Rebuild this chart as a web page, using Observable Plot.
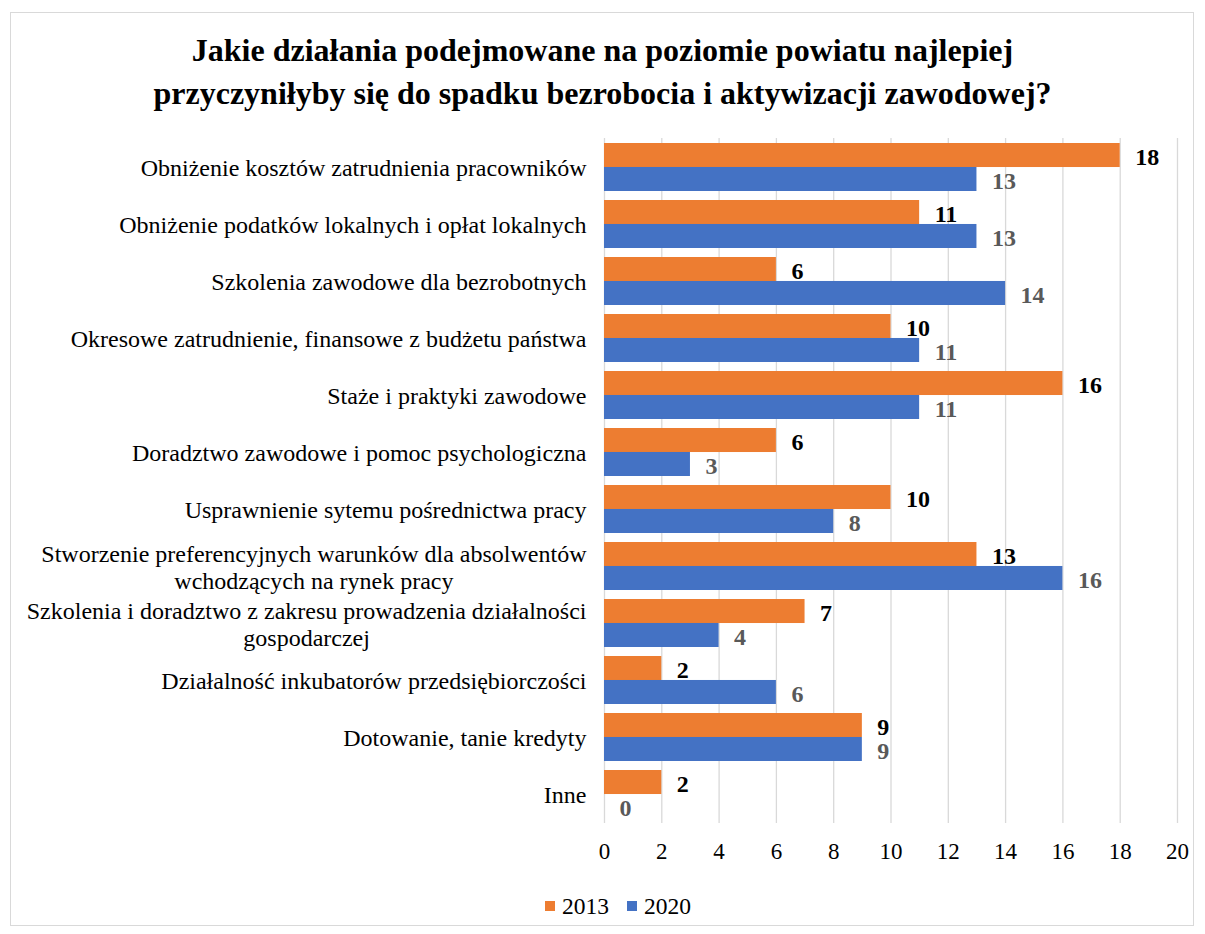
<!DOCTYPE html>
<html>
<head>
<meta charset="utf-8">
<script src="https://cdn.jsdelivr.net/npm/d3@7"></script>
<script src="https://cdn.jsdelivr.net/npm/@observablehq/plot@0.6"></script>
<style>
  html, body { margin: 0; padding: 0; background: #fff; }
  #wrap { position: relative; width: 1205px; height: 934px; font-family: "Liberation Serif", "Times New Roman", serif; }
  #frame { position: absolute; left: 10px; top: 12px; width: 1184px; height: 914px; border: 1px solid #d9d9d9; box-sizing: border-box; }
  #title { position: absolute; left: 0; top: 29px; width: 1205px; text-align: center; font-weight: bold; font-size: 32px; line-height: 43px; color: #000; }
  #chart { position: absolute; left: 0; top: 120px; }
  #legend { position: absolute; top: 888px; left: 545px; font-size: 23.5px; line-height: 30px; color: #000; white-space: nowrap; }
  #legend span.item { display: inline-flex; align-items: center; margin-right: 18px; }
  #legend span.sw { display: inline-block; width: 10px; height: 10px; margin-right: 7px; }
</style>
</head>
<body>
<div id="wrap">
  <div id="frame"></div>
  <div id="title">Jakie działania podejmowane na poziomie powiatu najlepiej<br>przyczyniłyby się do spadku bezrobocia i aktywizacji zawodowej?</div>
  <div id="chart"></div>
  <div id="legend"></div>
</div>
<script>
const categories = [
  "Obniżenie kosztów zatrudnienia pracowników",
  "Obniżenie podatków lokalnych i opłat lokalnych",
  "Szkolenia zawodowe dla bezrobotnych",
  "Okresowe zatrudnienie, finansowe z budżetu państwa",
  "Staże i praktyki zawodowe",
  "Doradztwo zawodowe i pomoc psychologiczna",
  "Usprawnienie sytemu pośrednictwa pracy",
  "Stworzenie preferencyjnych warunków dla absolwentów\nwchodzących na rynek pracy",
  "Szkolenia i doradztwo z zakresu prowadzenia działalności\ngospodarczej",
  "Działalność inkubatorów przedsiębiorczości",
  "Dotowanie, tanie kredyty",
  "Inne"
];
const values2013 = [18, 11, 6, 10, 16, 6, 10, 13, 7, 2, 9, 2];
const values2020 = [13, 13, 14, 11, 11, 3, 8, 16, 4, 6, 9, 0];
const years = ["2013", "2020"];
const colors = ["#ED7D31", "#4472C4"];
const xTicks = [0, 2, 4, 6, 8, 10, 12, 14, 16, 18, 20];

const data2013 = categories.map((c, i) => ({category: c, value: values2013[i]}));
const data2020 = categories.map((c, i) => ({category: c, value: values2020[i]}));

const W = 1205, H = 760, mT = 18, mB = 57, mL = 604, mR = 28;
const pIn = 0.16, pOut = 0.08;
const step = (H - mT - mB) / (categories.length - pIn + 2 * pOut);
const bw = step * (1 - pIn);

const labelFont = 24;
const ctx = document.createElement("canvas").getContext("2d");
ctx.font = `${labelFont}px "Liberation Serif"`;
const labelMarks = categories.map(c => {
  const w = d3.max(c.split("\n"), s => ctx.measureText(s).width);
  return Plot.text([c], {
    y: d => d, text: d => d, frameAnchor: "left",
    dx: -18 - w / 2, textAnchor: "middle", lineAnchor: "middle",
    lineHeight: 1.125, fontSize: labelFont, fill: "#000"
  });
});

const chart = Plot.plot({
  width: W, height: H,
  marginTop: mT, marginBottom: mB, marginLeft: mL, marginRight: mR,
  style: {fontFamily: "'Liberation Serif', 'Times New Roman', serif", fontSize: "23px", background: "transparent", color: "#000"},
  x: {domain: [0, 20], ticks: xTicks, tickSize: 0, tickPadding: 19, label: null},
  y: {domain: categories, paddingInner: pIn, paddingOuter: pOut, axis: null},
  marks: [
    Plot.ruleX(xTicks, {stroke: "#d9d9d9", strokeWidth: 1.3}),
    Plot.barX(data2013, {x: "value", y: "category", fill: colors[0], insetBottom: bw / 2}),
    Plot.barX(data2020, {x: "value", y: "category", fill: colors[1], insetTop: bw / 2}),
    Plot.text(data2013, {x: "value", y: "category", text: d => String(d.value), dx: 15, dy: -bw / 4 + 2, textAnchor: "start", fontWeight: "bold", fontSize: 24, fill: "#000"}),
    Plot.text(data2020, {x: "value", y: "category", text: d => String(d.value), dx: 15, dy: bw / 4 + 2, textAnchor: "start", fontWeight: "bold", fontSize: 24, fill: "#595959"}),
    ...labelMarks
  ]
});
document.getElementById("chart").appendChild(chart);

const legend = document.getElementById("legend");
years.forEach((y, i) => {
  const item = document.createElement("span");
  item.className = "item";
  const sw = document.createElement("span");
  sw.className = "sw";
  sw.style.background = colors[i];
  item.appendChild(sw);
  item.appendChild(document.createTextNode(y));
  legend.appendChild(item);
});
</script>
</body>
</html>
